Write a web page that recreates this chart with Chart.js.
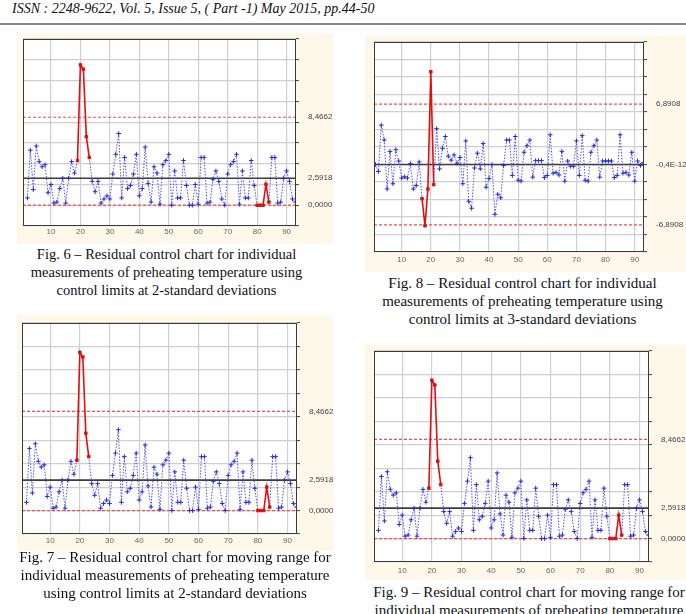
<!DOCTYPE html>
<html>
<head>
<meta charset="utf-8">
<script src="https://cdn.jsdelivr.net/npm/chart.js@4.4.1/dist/chart.umd.min.js"></script>
<style>
  body { margin: 0; width: 686px; height: 614px; overflow: hidden; position: relative; background: #fff;
         font-family: "Liberation Serif", "Times New Roman", serif; color: #111; }
  #head { position: absolute; left: 12px; top: 1px; font-style: italic; font-size: 14px; white-space: nowrap; }
  #rule { position: absolute; left: 0; top: 23px; width: 686px; height: 2px; background: #8a8a8a; }
  canvas { position: absolute; }
  .cap { position: absolute; text-align: center; font-size: 15px; line-height: 18px; white-space: nowrap; }
</style>
</head>
<body>
<div id="head">ISSN : 2248-9622, Vol. 5, Issue 5, ( Part -1) May 2015, pp.44-50</div>
<div id="rule"></div>

<canvas id="fig6"></canvas>
<canvas id="fig8"></canvas>
<canvas id="fig7"></canvas>
<canvas id="fig9"></canvas>

<div class="cap" style="left:0;top:245px;width:333px;font-size:14.5px">Fig. 6 – Residual control chart for individual<br>measurements of preheating temperature using<br>control limits at 2-standard deviations</div>
<div class="cap" style="left:362px;top:274px;width:321px">Fig. 8 – Residual control chart for individual<br>measurements of preheating temperature using<br>control limits at 3-standard deviations</div>
<div class="cap" style="left:0;top:548px;width:350px">Fig. 7 – Residual control chart for moving range for<br>individual measurements of preheating temperature<br>using control limits at 2-standard deviations</div>
<div class="cap" style="left:364px;top:583px;width:330px">Fig. 9 – Residual control chart for moving range for<br>individual measurements of preheating temperature</div>

<script>
// sample numbers 1..93
const sampleNo = Array.from({ length: 93 }, (_, i) => i + 1);

// residuals of the individual measurements (samples 1..93)
const residuals = [
  0.0, -0.8, 4.5, 2.8, -2.8, 1.5, -2.2, 1.7, 0.4, -1.55,
  -1.4, -1.55, 0.1, -2.8, -2.4, 0.3, -3.9, -7.0, -2.8, 10.6,
  -2.3, 4.1, -0.5, 1.85, 3.2, 0.95, 0.5, 1.1, 0.15, 0.8,
  -2.2, 2.7, -4.2, -5.0, -0.4, 1.3, -0.5, 2.4, -2.6, -1.6,
  0.0, -5.7, -3.4, -3.8, -0.1, 2.8, 2.8, -1.25, 3.2, -1.8,
  -1.9, 1.4, 2.15, 2.8, -1.45, 0.45, 0.45, 0.45, -1.5, -1.25,
  3.4, -1.0, -0.9, -1.2, 1.5, -1.9, 0.4, -0.2, -0.2, 2.7,
  -1.25, 3.3, -1.8, -1.9, 1.4, 2.15, 2.8, -1.45, 0.4, 0.4,
  0.4, 0.4, -1.5, -1.25, 3.4, -1.0, -0.9, -1.2, 1.4, -1.9,
  0.4, -0.1, 0.2
];

// moving ranges (samples 2..93)
const movingRange = [
  0.7, 5.3, 1.5, 5.7, 4.2, 3.7, 3.9, 1.2, 2.0,
  0.2, 0.3, 1.6, 2.6, 0.2, 2.6, 4.2, 3.1, 4.3, 13.5,
  13.1, 6.6, 4.6, 2.3, 1.3, 2.3, 0.2, 0.6, 0.9, 0.6,
  3.0, 4.9, 6.9, 0.7, 4.6, 1.6, 1.9, 3.0, 4.9, 0.9,
  1.6, 5.6, 2.1, 0.3, 3.7, 3.1, 0.1, 3.9, 4.3, 4.9,
  0.0, 3.3, 0.7, 0.7, 4.3, 1.9, 0.0, 0.0, 2.0, 0.1,
  4.6, 4.6, 0.2, 0.3, 2.5, 3.3, 2.3, 0.6, 0.0, 3.0,
  3.9, 4.2, 4.9, 0.1, 3.3, 0.7, 0.7, 4.3, 1.9, 0.0,
  0.0, 0.0, 2.0, 0.3, 4.6, 4.6, 0.2, 0.3, 2.6, 3.3,
  2.3, 0.6, 0.3
];

// flagged (red) samples
const resOut = [17, 18, 19, 20, 21];
const mrOut = [19, 20, 21, 22, 23, 80, 81, 82, 83, 84];

// control lines: lower, centre, upper
const resLimits = [-6.8908, -0.4e-12, 6.8908];
const resLimitLabels = ['-6,8908', '-0,4E-12', '6,8908'];
const mrLimits = [0, 2.5918, 8.4662];
const mrLimitLabels = ['0,0000', '2,5918', '8,4662'];

const xTicks = [10, 20, 30, 40, 50, 60, 70, 80, 90];

const X_MIN = 0.5, X_MAX = 93.2;
const CREAM = '#fdf8ea', BLUE = '#5050ea', RED = '#e01010', LIMIT = '#e8514f', GRID = '#cfcfcf';

const framePlugin = {
  id: 'frame',
  beforeDraw(chart) {
    const c = chart.ctx, a = chart.chartArea;
    c.save();
    c.fillStyle = CREAM;
    c.fillRect(0, 0, chart.width, chart.height);
    c.fillStyle = '#fff';
    c.fillRect(a.left, a.top, a.right - a.left, a.bottom - a.top);
    c.restore();
  },
  afterDraw(chart) {
    const c = chart.ctx, a = chart.chartArea;
    c.save();
    c.strokeStyle = '#3a3a3a';
    c.lineWidth = 1;
    c.strokeRect(a.left + 0.5, a.top + 0.5, a.right - a.left - 1, a.bottom - a.top - 1);
    c.restore();
  }
};

function controlChart(id, geo, xs, ys, outList, limits, limitLabels, yMin, yMax) {
  const cv = document.getElementById(id);
  const [pl, pt, pw, ph] = geo.panel;
  const [al, at, ar, ab] = geo.plot;
  cv.width = pw; cv.height = ph;
  cv.style.left = pl + 'px'; cv.style.top = pt + 'px';

  const isOut = xs.map(x => outList.includes(x));
  const redSeg = ctx => isOut[ctx.p0DataIndex] && isOut[ctx.p1DataIndex];

  const lineSet = (v, color, dash, width) => ({
    data: [{ x: X_MIN, y: v }, { x: X_MAX, y: v }],
    borderColor: color, borderDash: dash, borderWidth: width,
    pointRadius: 0, order: 1
  });

  new Chart(cv, {
    type: 'line',
    data: {
      datasets: [
        {
          data: xs.map((x, i) => ({ x: x, y: ys[i] })),
          borderColor: BLUE,
          borderWidth: 1,
          borderDash: [1.5, 1.5],
          segment: {
            borderColor: ctx => redSeg(ctx) ? RED : BLUE,
            borderDash: ctx => redSeg(ctx) ? [] : [1.5, 1.5],
            borderWidth: ctx => redSeg(ctx) ? 1.6 : 1
          },
          pointStyle: ctx => isOut[ctx.dataIndex] ? 'rect' : 'cross',
          pointRadius: ctx => isOut[ctx.dataIndex] ? 1.8 : 2.3,
          pointBorderColor: ctx => isOut[ctx.dataIndex] ? RED : '#2b2bd6',
          pointBackgroundColor: ctx => isOut[ctx.dataIndex] ? RED : '#2b2bd6',
          pointBorderWidth: 1,
          order: 0
        },
        lineSet(limits[0], LIMIT, [3, 2], 1.2),
        lineSet(limits[1], '#3c3c3c', [], 1.6),
        lineSet(limits[2], LIMIT, [3, 2], 1.2)
      ]
    },
    options: {
      responsive: false,
      animation: false,
      events: [],
      layout: { padding: { left: al - pl, top: at - pt, right: 0, bottom: 0 } },
      plugins: { legend: { display: false }, tooltip: { enabled: false } },
      scales: {
        x: {
          type: 'linear', min: X_MIN, max: X_MAX,
          afterBuildTicks: s => { s.ticks = xTicks.map(v => ({ value: v })); },
          afterFit: s => { s.height = pt + ph - ab; },
          grid: { color: GRID, lineWidth: 1.2, drawTicks: false },
          border: { display: false },
          ticks: { color: '#666', font: { size: 8, family: 'Liberation Sans' }, padding: geo.tickPad,
                   maxRotation: 0, autoSkip: false }
        },
        y: {
          position: 'right', min: yMin, max: yMax,
          ticks: { display: false, stepSize: 2 },
          grid: { color: GRID, lineWidth: 1.2, tickLength: 3, tickColor: '#444', tickWidth: 1 },
          border: { display: false },
          afterFit: s => { s.width = 3; }
        },
        y2: {
          position: 'right', min: yMin, max: yMax,
          afterBuildTicks: s => { s.ticks = limits.map(v => ({ value: v })); },
          afterFit: s => { s.width = pl + pw - ar - 3; },
          grid: { display: false },
          border: { display: false },
          ticks: { callback: (v, i) => limitLabels[i], color: '#444', font: { size: 8, family: 'Liberation Sans' },
                   padding: 1, autoSkip: false }
        }
      }
    },
    plugins: [framePlugin]
  });
}

const mrX = sampleNo.slice(1);

controlChart('fig6', { panel: [17, 33, 316, 211], plot: [23, 39, 296, 226], tickPad: 1 },
  mrX, movingRange, mrOut, mrLimits, mrLimitLabels, -2, 16);
controlChart('fig8', { panel: [365, 35, 321, 237], plot: [374, 42, 644, 252], tickPad: 3 },
  sampleNo, residuals, resOut, resLimits, resLimitLabels, -10, 14);
controlChart('fig7', { panel: [17, 315, 316, 236], plot: [21, 323, 297, 534], tickPad: 2 },
  mrX, movingRange, mrOut, mrLimits, mrLimitLabels, -2, 16);
controlChart('fig9', { panel: [365, 345, 321, 235], plot: [374, 351, 649, 562], tickPad: 4 },
  mrX, movingRange, mrOut, mrLimits, mrLimitLabels, -2, 16);
</script>
</body>
</html>
